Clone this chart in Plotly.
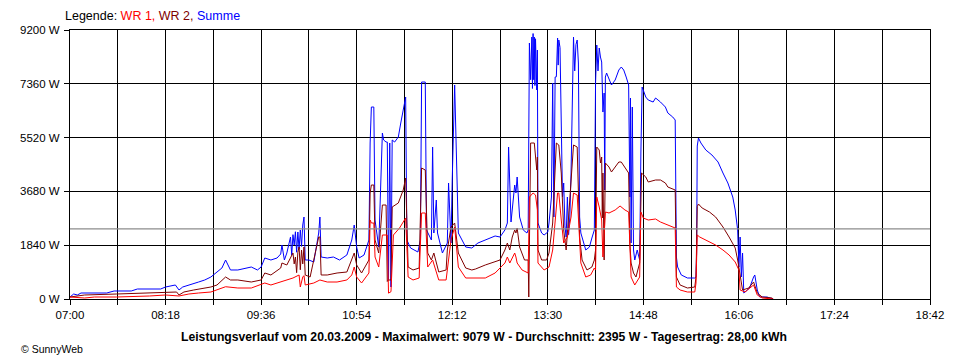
import plotly.graph_objects as go

DAY = "2009-03-20 "

# (time, W) readings for each series
summe = [
    ("07:00", 68), ("07:03", 171), ("07:06", 137), ("07:09", 205), ("07:30", 205), ("07:36", 274),
    ("07:50", 274), ("07:55", 342), ("08:14", 342), ("08:18", 410), ("08:26", 479), ("08:29", 308),
    ("08:32", 410), ("08:38", 479), ("08:45", 581), ("08:50", 650), ("08:55", 752), ("09:00", 923),
    ("09:04", 1060), ("09:07", 1334), ("09:09", 1163), ("09:11", 992), ("09:17", 992), ("09:23", 1060),
    ("09:28", 1094), ("09:33", 992), ("09:36", 1094), ("09:39", 1402), ("09:44", 1334), ("09:49", 1402),
    ("09:52", 1539), ("09:53", 1847), ("09:55", 1334), ("09:57", 1573), ("10:00", 2120), ("10:01", 1500),
    ("10:02", 2200), ("10:03", 1847), ("10:04", 2300), ("10:05", 1600), ("10:06", 2291), ("10:07", 1700),
    ("10:08", 2360), ("10:09", 1800), ("10:10", 2531), ("10:11", 2804), ("10:12", 1334), ("10:15", 1334),
    ("10:19", 1265), ("10:23", 2257), ("10:24", 2804), ("10:25", 1436), ("10:30", 1402), ("10:35", 1436),
    ("10:40", 1334), ("10:46", 1505), ("10:50", 2018), ("10:52", 2531), ("10:54", 1778), ("10:56", 1402),
    ("11:00", 1505), ("11:04", 2018), ("11:05", 5335), ("11:06", 6566), ("11:08", 6566), ("11:09", 2702),
    ("11:12", 1778), ("11:15", 5677), ("11:16", 5438), ("11:18", 5369), ("11:19", 5369), ("11:20", 650),
    ("11:21", 5335), ("11:22", 410), ("11:23", 5438), ("11:25", 5369), ("11:28", 5540), ("11:30", 6019),
    ("11:33", 6703), ("11:34", 6908), ("11:35", 2018), ("11:38", 1744), ("11:44", 1607), ("11:46", 2018),
    ("11:47", 7421), ("11:50", 7421), ("11:51", 2360), ("11:55", 2018), ("11:56", 5198), ("11:57", 2257),
    ("11:59", 3386), ("12:00", 2257), ("12:04", 1573), ("12:08", 1915), ("12:09", 3967), ("12:11", 1915),
    ("12:12", 4070), ("12:14", 7319), ("12:16", 3967), ("12:17", 2257), ("12:23", 1778), ("12:28", 1744),
    ("12:33", 1915), ("12:39", 2018), ("12:47", 2155), ("12:51", 2120), ("12:55", 2360), ("12:57", 2599),
    ("12:58", 5198), ("13:00", 2633), ("13:01", 3146), ("13:03", 3899), ("13:04", 3625), ("13:05", 4172),
    ("13:07", 2804), ("13:10", 2360), ("13:13", 2257), ("13:14", 2360), ("13:15", 8755), ("13:16", 7500),
    ("13:17", 8960), ("13:17:30", 7200), ("13:18", 9079), ("13:18:30", 7500), ("13:19", 8960),
    ("13:19:30", 7300), ("13:20", 8900), ("13:21", 7148), ("13:21:30", 8516), ("13:22", 2599),
    ("13:25", 2257), ("13:27", 2189), ("13:30", 2291), ("13:31", 2599), ("13:33", 3488), ("13:34", 7387),
    ("13:35", 2804), ("13:36", 7592), ("13:37", 7600), ("13:38", 8926), ("13:38:30", 8000), ("13:39", 8858),
    ("13:40", 8600), ("13:41", 5780), ("13:42", 3488), ("13:43", 3967), ("13:44", 2500), ("13:45", 2120),
    ("13:46", 3488), ("13:47", 2200), ("13:48", 2804), ("13:49", 4309), ("13:50", 6908), ("13:51", 8960),
    ("13:52", 7800), ("13:53", 8700), ("13:54", 8858), ("13:55", 8071), ("13:56", 2804), ("13:57", 2257),
    ("14:01", 1676), ("14:04", 1778), ("14:06", 2086), ("14:08", 2360), ("14:09", 7387), ("14:10", 8687),
    ("14:11", 7800), ("14:12", 8584), ("14:13", 8276), ("14:14", 8105), ("14:15", 6395), ("14:16", 7045),
    ("14:16:30", 3728), ("14:17", 7592), ("14:18", 7729), ("14:20", 7490), ("14:21", 7387), ("14:22", 7319),
    ("14:25", 7490), ("14:28", 7832), ("14:30", 7934), ("14:32", 7832), ("14:34", 7592), ("14:36", 7319),
    ("14:37", 3488), ("14:37:30", 6874), ("14:38", 1915), ("14:39", 6566), ("14:40", 1676), ("14:41", 1334),
    ("14:43", 1676), ("14:45", 1334), ("14:46", 4993), ("14:46:30", 7148), ("14:47", 7250), ("14:50", 6908),
    ("14:52", 6806), ("14:56", 6737), ("14:58", 6874), ("15:02", 6737), ("15:06", 6566), ("15:08", 6361),
    ("15:12", 6224), ("15:14", 6122), ("15:15", 1436), ("15:16", 1094), ("15:19", 821), ("15:24", 718),
    ("15:30", 718), ("15:31", 752), ("15:31:30", 1573), ("15:32", 5232), ("15:32:30", 5438), ("15:33", 5506),
    ("15:35", 5335), ("15:39", 5096), ("15:44", 4925), ("15:49", 4685), ("15:53", 4309), ("15:57", 3967),
    ("16:01", 3488), ("16:03", 3044), ("16:05", 2360), ("16:06", 1094), ("16:07", 2120), ("16:08", 752),
    ("16:09", 1573), ("16:10", 205), ("16:13", 308), ("16:15", 410), ("16:18", 752), ("16:19", 821),
    ("16:21", 308), ("16:23", 68), ("16:29", 68), ("16:33", 34), ("16:34", 0),
]

wr2 = [
    ("07:00", 68), ("07:12", 137), ("07:38", 171), ("08:05", 205), ("08:18", 239), ("08:27", 239),
    ("08:29", 137), ("08:33", 239), ("08:41", 308), ("08:49", 376), ("08:55", 410), ("09:00", 479),
    ("09:07", 752), ("09:11", 650), ("09:17", 650), ("09:28", 581), ("09:36", 650), ("09:39", 889),
    ("09:44", 821), ("09:52", 1060), ("09:53", 1231), ("09:57", 1163), ("10:02", 1573), ("10:03", 1200),
    ("10:04", 1436), ("10:05", 900), ("10:06", 1600), ("10:07", 1778), ("10:08", 1000), ("10:09", 1676),
    ("10:10", 1200), ("10:11", 1778), ("10:12", 821), ("10:16", 752), ("10:23", 2120), ("10:24", 2120),
    ("10:25", 821), ("10:30", 821), ("10:38", 889), ("10:46", 923), ("10:50", 1334), ("10:52", 1573),
    ("10:54", 1163), ("10:58", 889), ("11:04", 1334), ("11:05", 3625), ("11:06", 3899), ("11:08", 3899),
    ("11:09", 2018), ("11:12", 1573), ("11:15", 3215), ("11:18", 3215), ("11:19", 600), ("11:20", 650),
    ("11:22", 650), ("11:23", 3146), ("11:28", 3283), ("11:32", 3728), ("11:34", 4138), ("11:36", 1094),
    ("11:40", 992), ("11:45", 1060), ("11:47", 4480), ("11:50", 4412), ("11:52", 1573), ("11:55", 1334),
    ("11:57", 1573), ("12:01", 923), ("12:07", 992), ("12:08", 1676), ("12:11", 2462), ("12:14", 2599),
    ("12:17", 1573), ("12:23", 1060), ("12:28", 992), ("12:31", 1026), ("12:39", 1163), ("12:47", 1265),
    ("12:51", 1334), ("12:55", 1676), ("12:57", 1915), ("12:59", 1676), ("13:01", 2120), ("13:03", 2360),
    ("13:04", 2257), ("13:05", 2428), ("13:07", 1778), ("13:11", 1334), ("13:14", 1334), ("13:14:30", 68),
    ("13:16", 5335), ("13:17", 5335), ("13:19", 5335), ("13:21", 4412), ("13:21:30", 4856), ("13:22", 1676),
    ("13:25", 1334), ("13:29", 1334), ("13:31", 1573), ("13:34", 2599), ("13:37", 5335), ("13:39", 5267),
    ("13:41", 4309), ("13:43", 2360), ("13:45", 1676), ("13:47", 2804), ("13:50", 4651), ("13:51", 5267),
    ("13:54", 5198), ("13:56", 2120), ("13:58", 1334), ("14:02", 992), ("14:06", 1094), ("14:08", 1334),
    ("14:09", 1676), ("14:10", 5198), ("14:12", 5096), ("14:13", 4651), ("14:14", 4856), ("14:14:30", 2770),
    ("14:15", 4309), ("14:16", 1334), ("14:17", 4651), ("14:20", 4514), ("14:22", 4343), ("14:25", 4514),
    ("14:28", 4685), ("14:30", 4685), ("14:33", 4514), ("14:36", 4309), ("14:37", 1915), ("14:38", 1231),
    ("14:40", 889), ("14:42", 752), ("14:45", 1231), ("14:46", 4001), ("14:46:30", 4309), ("14:50", 4172),
    ("14:52", 4001), ("14:58", 4070), ("15:02", 4070), ("15:06", 3967), ("15:08", 3830), ("15:14", 3728),
    ("15:15", 752), ("15:18", 479), ("15:24", 376), ("15:30", 410), ("15:31", 752), ("15:32", 3157),
    ("15:33", 3249), ("15:36", 3112), ("15:42", 2975), ("15:47", 2804), ("15:53", 2462), ("15:58", 2120),
    ("16:03", 1744), ("16:05", 1334), ("16:07", 752), ("16:09", 308), ("16:14", 376), ("16:18", 581),
    ("16:21", 205), ("16:25", 68), ("16:33", 34), ("16:34", 0),
]

wr1 = [
    ("07:00", 68), ("07:12", 34), ("07:20", 68), ("07:38", 68), ("08:05", 103), ("08:18", 137),
    ("08:29", 103), ("08:37", 171), ("08:45", 205), ("08:55", 239), ("09:07", 420), ("09:17", 376),
    ("09:28", 376), ("09:39", 547), ("09:44", 479), ("09:52", 581), ("09:57", 650), ("10:02", 718),
    ("10:07", 821), ("10:08", 410), ("10:10", 752), ("10:11", 800), ("10:12", 479), ("10:19", 547),
    ("10:24", 650), ("10:30", 581), ("10:38", 581), ("10:46", 650), ("10:50", 821), ("10:52", 1094),
    ("10:54", 752), ("10:58", 547), ("11:04", 889), ("11:05", 2702), ("11:06", 2599), ("11:08", 2599),
    ("11:09", 1436), ("11:12", 1094), ("11:15", 2189), ("11:19", 2189), ("11:20", 200), ("11:22", 250),
    ("11:24", 2189), ("11:29", 2428), ("11:34", 2770), ("11:36", 752), ("11:40", 650), ("11:45", 718),
    ("11:47", 2941), ("11:50", 2941), ("11:52", 1094), ("11:56", 1334), ("12:01", 650), ("12:07", 650),
    ("12:11", 2018), ("12:14", 2462), ("12:17", 1094), ("12:23", 718), ("12:39", 718), ("12:47", 889),
    ("12:55", 1231), ("12:57", 1436), ("12:59", 1231), ("13:03", 1573), ("13:04", 1436), ("13:05", 1231),
    ("13:09", 992), ("13:14", 889), ("13:15", 3488), ("13:18", 3625), ("13:20", 3557), ("13:21:30", 3044),
    ("13:22", 1231), ("13:27", 992), ("13:31", 1094), ("13:34", 1676), ("13:38", 3625), ("13:39", 3625),
    ("13:41", 2702), ("13:43", 1915), ("13:46", 2120), ("13:49", 2804), ("13:51", 3625), ("13:54", 3557),
    ("13:57", 1231), ("14:01", 752), ("14:05", 821), ("14:08", 1060), ("14:09", 992), ("14:10", 3488),
    ("14:12", 3146), ("14:14", 2702), ("14:15", 1436), ("14:17", 2975), ("14:20", 2941), ("14:25", 3044),
    ("14:29", 3181), ("14:33", 3044), ("14:36", 2975), ("14:38", 752), ("14:41", 479), ("14:45", 752),
    ("14:46", 2975), ("14:48", 2770), ("14:52", 2702), ("14:58", 2736), ("15:02", 2633), ("15:08", 2531),
    ("15:14", 2428), ("15:15", 410), ("15:18", 308), ("15:24", 239), ("15:30", 239), ("15:31", 547),
    ("15:32", 2189), ("15:34", 2120), ("15:39", 2018), ("15:47", 1847), ("15:53", 1676), ("15:58", 1505),
    ("16:03", 1265), ("16:06", 992), ("16:07", 308), ("16:11", 239), ("16:18", 479), ("16:21", 137),
    ("16:25", 34), ("16:34", 0),
]

average_w = 2395
y_ticks = [0, 1840, 3680, 5520, 7360, 9200]
x_ticks = ["07:00", "07:39", "08:18", "08:57", "09:36", "10:15", "10:54", "11:33", "12:12", "12:51",
           "13:30", "14:09", "14:48", "15:27", "16:06", "16:45", "17:24", "18:03", "18:42"]
title_text = ("Leistungsverlauf vom 20.03.2009 - Maximalwert: 9079 W - Durchschnitt: 2395 W - "
              "Tagesertrag: 28,00 kWh")

FONT = "Liberation Sans, Arial, sans-serif"


def xs(data):
    return [DAY + (t if len(t) > 5 else t + ":00") for t, _ in data]


def ys(data):
    return [v for _, v in data]


fig = go.Figure()
for name, data, color in [("Summe", summe, "#0000ff"), ("WR 2", wr2, "#800000"), ("WR 1", wr1, "#ff0000")]:
    fig.add_trace(go.Scatter(x=xs(data), y=ys(data), mode="lines", name=name,
                             line=dict(color=color, width=1), hoverinfo="x+y+name"))

fig.add_shape(type="line", xref="paper", x0=0, x1=1, yref="y", y0=average_w, y1=average_w,
              line=dict(color="#8c8c8c", width=1.2), layer="above")

# page body has an 8px default margin; figure spans 8..960 x 8..360
PLOT_H = 269
fig.update_layout(
    width=952, height=352,
    margin=dict(l=52, r=30, t=22, b=61),
    paper_bgcolor="white", plot_bgcolor="white",
    showlegend=False,
    font=dict(family=FONT, size=11, color="black"),
    xaxis=dict(
        type="date",
        range=[DAY + "07:00", DAY + "18:42"],
        tickvals=[DAY + t for t in x_ticks],
        ticktext=[t if i % 2 == 0 else "" for i, t in enumerate(x_ticks)],
        showgrid=True, gridcolor="black", gridwidth=1,
        showline=True, linecolor="black", linewidth=1, mirror=True,
        ticks="outside", ticklen=5, tickcolor="black", tickwidth=1,
        tickfont=dict(family=FONT, size=11.5, color="black"),
        zeroline=False, fixedrange=True,
    ),
    yaxis=dict(
        range=[0, 9200],
        tickvals=y_ticks,
        ticktext=[f"{v} W" for v in y_ticks],
        showgrid=True, gridcolor="black", gridwidth=1,
        showline=True, linecolor="black", linewidth=1, mirror=True,
        ticks="outside", ticklen=5, tickcolor="black", tickwidth=1,
        tickfont=dict(family=FONT, size=11.5, color="black"),
        ticklabelstandoff=2,
        zeroline=False, fixedrange=True,
    ),
    annotations=[
        dict(xref="paper", yref="paper", x=0, y=1 + 14 / PLOT_H, xanchor="left", yanchor="middle",
             xshift=-7, showarrow=False, font=dict(family=FONT, size=12.5, color="black"),
             text=("Legende: <span style='color:#ff0000'>WR 1, </span>"
                   "<span style='color:#800000'>WR 2, </span>"
                   "<span style='color:#0000ff'>Summe</span>")),
        dict(xref="paper", yref="paper", x=(479 - 60) / 870, y=-38 / PLOT_H, xanchor="center",
             yanchor="middle", showarrow=False, font=dict(family=FONT, size=12.2, color="black"),
             text="<b>" + title_text + "</b>"),
        dict(xref="paper", yref="paper", x=-52 / 870, y=-50 / PLOT_H, xanchor="left", yanchor="middle",
             showarrow=False, font=dict(family=FONT, size=10.5, color="black"),
             text="© SunnyWeb"),
    ],
)

fig.write_html("out.html")
